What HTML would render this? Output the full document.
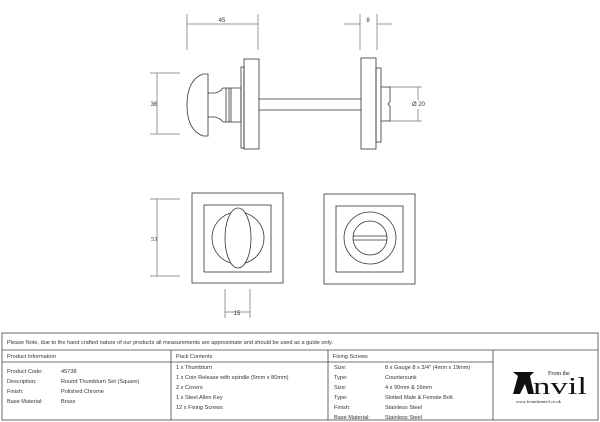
<!DOCTYPE html>
<html><head><meta charset="utf-8"><style>
html,body{margin:0;padding:0;background:#fff;}
svg{display:block;font-family:"Liberation Sans",sans-serif;}
</style></head><body>
<svg width="600" height="422" viewBox="0 0 600 422" xmlns="http://www.w3.org/2000/svg">
<g fill="none" stroke="#333" stroke-width="0.8">
<line x1="187" y1="14" x2="187" y2="50" stroke-width="0.5"/>
<line x1="258" y1="14" x2="258" y2="50" stroke-width="0.5"/>
<line x1="187" y1="24" x2="258" y2="24" stroke-width="0.5"/>
<line x1="360" y1="14" x2="360" y2="50" stroke-width="0.5"/>
<line x1="377" y1="14" x2="377" y2="50" stroke-width="0.5"/>
<line x1="344" y1="24" x2="360" y2="24" stroke-width="0.5"/>
<line x1="377" y1="24" x2="392" y2="24" stroke-width="0.5"/>
<line x1="150" y1="73" x2="180" y2="73" stroke-width="0.5"/>
<line x1="150" y1="134" x2="180" y2="134" stroke-width="0.5"/>
<line x1="157" y1="73" x2="157" y2="134" stroke-width="0.5"/>
<line x1="390" y1="87" x2="422" y2="87" stroke-width="0.5"/>
<line x1="390" y1="121" x2="422" y2="121" stroke-width="0.5"/>
<line x1="418" y1="87" x2="418" y2="100" stroke-width="0.5"/>
<line x1="418" y1="109" x2="418" y2="121" stroke-width="0.5"/>
<path d="M208 74 L203 74 Q187 80 187 105 Q187 130 203 136 L208 136 Z"/>
<path d="M208 93 L215 93 Q220 92 223 88 L241 88 L241 122 L223 122 Q220 118 215 117 L208 117"/>
<line x1="226" y1="88" x2="226" y2="122"/><line x1="229" y1="88" x2="229" y2="122"/><line x1="231" y1="88" x2="231" y2="122"/>
<rect x="241" y="67" width="3" height="81"/>
<rect x="244" y="59" width="15" height="90"/>
<line x1="259" y1="99" x2="361" y2="99"/><line x1="259" y1="110" x2="361" y2="110"/>
<rect x="361" y="58" width="15" height="91"/>
<rect x="376" y="68" width="5" height="74"/>
<path d="M381 87 H390 V102 L388 104 L390 106 V121 H381"/>
<rect x="192" y="193" width="91" height="90"/>
<rect x="204" y="205" width="67" height="67"/>
<circle cx="238" cy="238" r="26"/>
<ellipse cx="238" cy="238" rx="13" ry="30" fill="#fff"/>
<rect x="324" y="194" width="91" height="90"/>
<rect x="336" y="206" width="67" height="66"/>
<circle cx="370" cy="238" r="26"/>
<circle cx="370" cy="238" r="17"/>
<line x1="353" y1="236" x2="387" y2="236"/><line x1="353" y1="240" x2="387" y2="240"/>
<line x1="150" y1="199" x2="180" y2="199" stroke-width="0.5"/>
<line x1="150" y1="276" x2="180" y2="276" stroke-width="0.5"/>
<line x1="157" y1="199" x2="157" y2="276" stroke-width="0.5"/>
<line x1="225" y1="289" x2="225" y2="318" stroke-width="0.5"/>
<line x1="250" y1="289" x2="250" y2="318" stroke-width="0.5"/>
<line x1="225" y1="312" x2="250" y2="312" stroke-width="0.5"/>
</g>
<g font-size="6" fill="#333">
<text x="222" y="22" text-anchor="middle">45</text>
<text x="368" y="22" text-anchor="middle">8</text>
<text x="154" y="106" text-anchor="middle">36</text>
<text x="412" y="106">Ø 20</text>
<text x="151" y="241" font-family="Liberation Serif">53</text>
<text x="237" y="315" text-anchor="middle">15</text>
</g>
<g fill="none" stroke="#444" stroke-width="0.8">
<rect x="2" y="333" width="596" height="87"/>
<line x1="2" y1="350" x2="598" y2="350"/>
<line x1="2" y1="362" x2="493" y2="362"/>
<line x1="171" y1="350" x2="171" y2="420"/>
<line x1="328" y1="350" x2="328" y2="420"/>
<line x1="493" y1="350" x2="493" y2="420"/>
</g>
<g font-size="5.6" fill="#333">
<text x="7" y="344">Please Note, due to the hand crafted nature of our products all measurements are approximate and should be used as a guide only.</text>
<text x="7" y="358">Product Information</text>
<text x="176" y="358">Pack Contents</text>
<text x="333" y="358">Fixing Screws</text>
<text x="7" y="373">Product Code:</text><text x="61" y="373">45738</text>
<text x="7" y="383">Description:</text><text x="61" y="383">Round Thumbturn Set (Square)</text>
<text x="7" y="393">Finish:</text><text x="61" y="393">Polished Chrome</text>
<text x="7" y="403">Base Material:</text><text x="61" y="403">Brass</text>
<text x="176" y="369">1 x Thumbturn</text>
<text x="176" y="379">1 x Coin Release with spindle (5mm x 80mm)</text>
<text x="176" y="389">2 x Covers</text>
<text x="176" y="399">1 x Steel Allen Key</text>
<text x="176" y="409">12 x Fixing Screws</text>
<text x="334" y="369">Size:</text><text x="385" y="369">8 x Gauge 8 x 3/4" (4mm x 19mm)</text>
<text x="334" y="379">Type:</text><text x="385" y="379">Countersunk</text>
<text x="334" y="389">Size:</text><text x="385" y="389">4 x 90mm &amp; 16mm</text>
<text x="334" y="399">Type:</text><text x="385" y="399">Slotted Male &amp; Female Bolt</text>
<text x="334" y="409">Finish:</text><text x="385" y="409">Stainless Steel</text>
<text x="334" y="419">Base Material:</text><text x="385" y="419">Stainless Steel</text>
</g>
<path d="M513 372 H534 L530 376 L534 394 H528 L525 384 L520 394 H513 L518 376 Z" fill="#111"/>
<text x="548" y="375" font-family="Liberation Serif" font-size="6" fill="#111">From the</text>
<text x="533" y="394" font-family="Liberation Serif" font-size="24" fill="#111" textLength="54" lengthAdjust="spacingAndGlyphs">nvil</text>
<text x="516" y="403" font-family="Liberation Serif" font-size="4.5" fill="#222">www.fromtheanvil.co.uk</text>
</svg>
</body></html>
